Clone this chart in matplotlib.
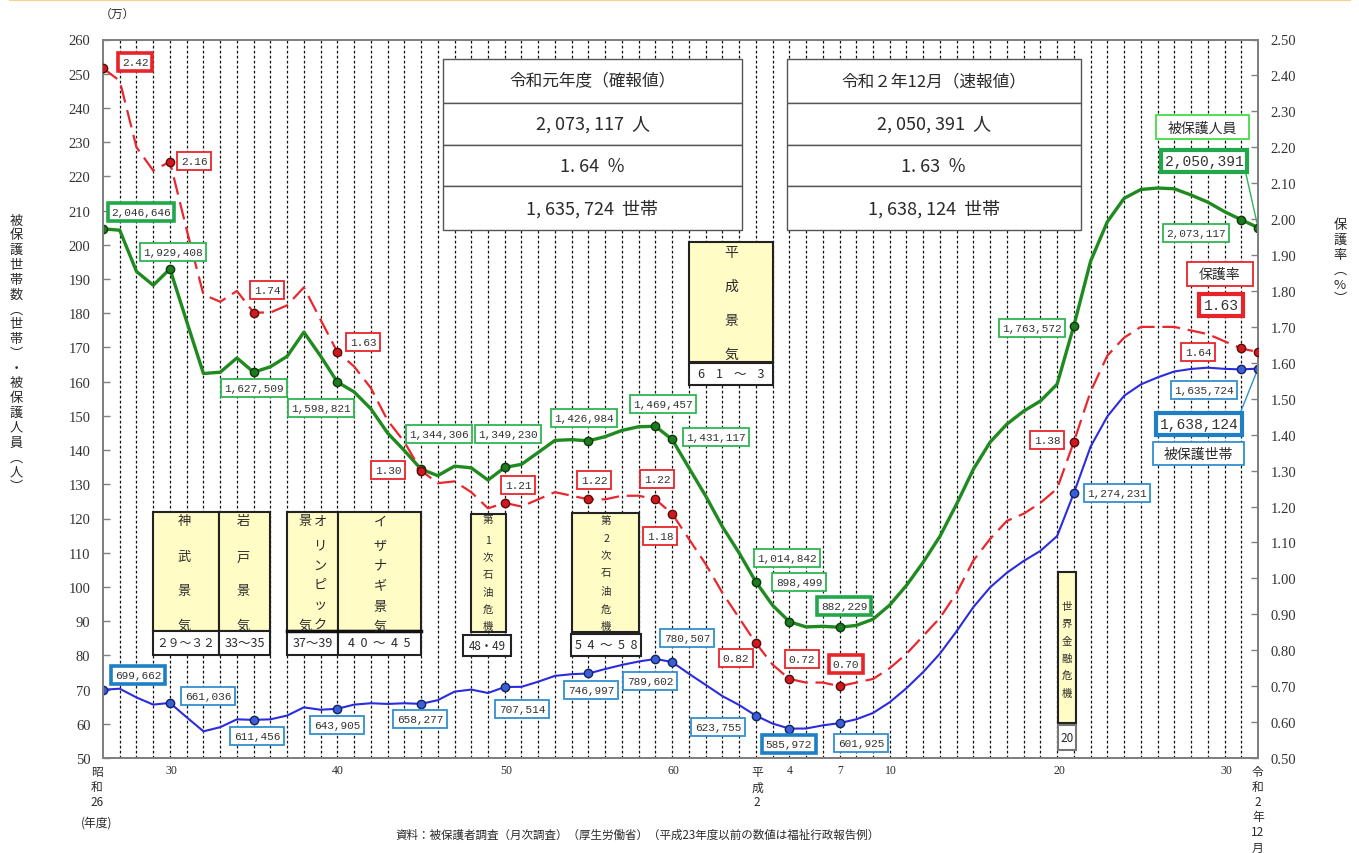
import matplotlib
matplotlib.use('Agg')
import matplotlib.pyplot as plt
from matplotlib.patches import Rectangle
from matplotlib.lines import Line2D

# ---------------- data ----------------
years = list(range(1951, 2020)) + [2020]   # last point = 令和2年12月
persons = [
    2046646, 2042550, 1922060, 1881687, 1929408, 1775971, 1623744, 1627571, 1669180, 1627509,
    1643445, 1674001, 1744639, 1674661, 1598821, 1570054, 1520733, 1449970, 1398725, 1344306,
    1325218, 1353000, 1348000, 1312339, 1349230, 1358316, 1393128, 1428261, 1430488, 1426984,
    1439226, 1457383, 1468245, 1469457, 1431117, 1348163, 1266126, 1176258, 1099520, 1014842,
    946374, 898499, 883112, 884912, 882229, 887450, 905589, 946994, 1004472, 1072241,
    1148088, 1242723, 1344327, 1423388, 1475838, 1513892, 1543321, 1592620, 1763572, 1952063,
    2067244, 2135708, 2161612, 2165895, 2163685, 2145438, 2124631, 2096838, 2073117, 2050391]
households = [
    699662, 702450, 677000, 656000, 661036, 619000, 578000, 590000, 613000, 611456,
    613000, 624000, 648000, 641000, 643905, 656000, 660000, 658000, 660000, 658277,
    669000, 694000, 700000, 690000, 707514, 708000, 723000, 740000, 745000, 746997,
    760000, 772000, 782000, 789602, 780507, 746355, 713825, 681018, 654915, 623755,
    600697, 585972, 586106, 595407, 601925, 613106, 631488, 663060, 704055, 751303,
    805169, 870931, 941270, 998887, 1041508, 1075820, 1105275, 1148766, 1274231, 1410049,
    1498375, 1558510, 1591846, 1612340, 1629743, 1637045, 1640854, 1637422, 1635724, 1638124]
rate = [
    2.42, 2.385, 2.20, 2.135, 2.16, 1.97, 1.79, 1.77, 1.80, 1.74,
    1.74, 1.76, 1.81, 1.72, 1.63, 1.59, 1.53, 1.44, 1.38, 1.30,
    1.265, 1.27, 1.24, 1.195, 1.21, 1.20, 1.22, 1.24, 1.23, 1.22,
    1.22, 1.23, 1.23, 1.22, 1.18, 1.11, 1.04, 0.96, 0.89, 0.82,
    0.76, 0.72, 0.71, 0.71, 0.70, 0.71, 0.72, 0.75, 0.79, 0.84,
    0.89, 0.96, 1.05, 1.11, 1.16, 1.18, 1.21, 1.25, 1.38, 1.52,
    1.62, 1.67, 1.70, 1.70, 1.70, 1.69, 1.68, 1.66, 1.64, 1.63]
left_ticks = list(range(50, 261, 10))
right_ticks = [round(0.5 + 0.1 * i, 2) for i in range(21)]

# ---------------- layout ----------------
W, H = 1359, 854
fig = plt.figure(figsize=(W / 100, H / 100), dpi=100)
fig.patch.set_facecolor('white')


def F(px, py):
    return (px / W, 1 - py / H)


JP = ['Noto Sans CJK JP', 'DejaVu Sans']
MONO = ['Liberation Mono', 'DejaVu Sans Mono']
SERIF = ['Liberation Serif', 'DejaVu Serif']
TXT = '#2a2a2a'


def txt(px, py, s, size, family=JP, color=TXT, ha='center', va='center', z=6, **kw):
    return fig.text(*F(px, py), s, fontsize=size, family=family, color=color,
                    ha=ha, va=va, zorder=z, **kw)


def rect(x0, y0, x1, y1, fc='white', ec='#333', lw=1.0, z=4):
    fig.add_artist(Rectangle(F(x0, y1), (x1 - x0) / W, (y1 - y0) / H,
                             transform=fig.transFigure, fc=fc, ec=ec, lw=lw, zorder=z))


ax = fig.add_axes([103 / W, 1 - 759 / H, 1155 / W, 718.5 / H])
ax2 = ax.twinx()
ax.set_xlim(1951, 2020)
ax.set_ylim(50, 260)
ax2.set_ylim(0.5, 2.5)
ax.set_xticks([])

for a in (ax, ax2):
    for s in a.spines.values():
        s.set_color('#808080')
        s.set_linewidth(1.4)

ax.set_yticks(left_ticks)
ax.set_yticklabels([str(t) for t in left_ticks])
ax.tick_params(axis='y', direction='in', length=5, width=1, color='#808080',
               labelsize=10.5, pad=9, labelcolor='#333')
for l in ax.get_yticklabels():
    l.set_fontfamily(SERIF)
ax2.set_yticks(right_ticks)
ax2.set_yticklabels([f'{t:.2f}' for t in right_ticks])
ax2.tick_params(axis='y', direction='in', length=5, width=1, color='#808080',
                labelsize=10.5, pad=9, labelcolor='#333')
for l in ax2.get_yticklabels():
    l.set_fontfamily(SERIF)

# vertical year grid
for yr in years[1:-1]:
    ax.axvline(yr, color='#111111', lw=0.9, ls=(0, (2.2, 1.8)), zorder=0.5)

# series
p_man = [v / 10000 for v in persons]
h_man = [v / 10000 for v in households]
GREEN, RED, BLUE = '#1f8a1f', '#e8282e', '#2b2be0'
ax.plot(years, p_man, color=GREEN, lw=2.4, zorder=3, solid_joinstyle='round')
ax.plot(years, h_man, color=BLUE, lw=1.5, zorder=3)
ax2.plot(years, rate, color=RED, lw=1.6, dashes=(8, 3.5), zorder=3)

# label layouts (pixel centre, style)
green_lab = {1951: (141, 213, 't'), 1955: (173, 253, ''), 1960: (254, 389, ''),
             1965: (321, 409, ''), 1970: (439, 435, ''), 1975: (508, 435, ''),
             1980: (584, 419, ''), 1984: (663, 405, ''), 1985: (716, 438, ''),
             1990: (787, 559, ''), 1992: (799, 583, ''), 1995: (844, 607, 't'),
             2009: (1032, 329, ''), 2019: (1196, 234, ''), 2020: (1204, 162, 'b')}
red_lab = {1951: (135, 63, 't'), 1955: (194, 162, ''), 1960: (267, 291, ''),
           1965: (363, 343, ''), 1970: (388, 471, ''), 1975: (518, 486, ''),
           1980: (594, 481, ''), 1984: (657, 480, ''), 1985: (660, 537, ''),
           1990: (736, 659, ''), 1992: (802, 660, ''), 1995: (846, 665, 't'),
           2009: (1047, 441, ''), 2019: (1198, 353, ''), 2020: (1221, 306, 'b')}
blue_lab = {1951: (138, 676, 't'), 1955: (208, 697, ''), 1960: (257, 737, ''),
            1965: (337, 726, ''), 1970: (420, 720, ''), 1975: (522, 710, ''),
            1980: (591, 691, ''), 1984: (650, 682, ''), 1985: (687, 639, ''),
            1990: (718, 728, ''), 1992: (789, 745, 't'), 1995: (861, 744, ''),
            2009: (1117, 494, ''), 2019: (1204, 391, ''), 2020: (1199, 425, 'b')}

marked = sorted(green_lab.keys())
idx = [years.index(y) for y in marked]
ax.plot([years[i] for i in idx], [p_man[i] for i in idx], 'o', ms=6,
        mfc='#1e7a1e', mec='#0d3a0d', mew=1.0, zorder=4)
ax.plot([years[i] for i in idx], [h_man[i] for i in idx], 'o', ms=6,
        mfc='#3a5fd8', mec='#15245e', mew=1.0, zorder=4)
ax2.plot([years[i] for i in idx], [rate[i] for i in idx], 'o', ms=6,
         mfc='#d0181e', mec='#5a0c0c', mew=1.0, zorder=4)


def data_label(px, py, s, ec, style):
    if style == 'b':
        fs, lw, pad, fam = 10.5, 3.0, 0.28, MONO
    elif style == 't':
        fs, lw, pad, fam = 8, 2.6, 0.32, MONO
    else:
        fs, lw, pad, fam = 8, 1.3, 0.32, MONO
    txt(px, py, s, fs, family=fam, color='#333',
        bbox=dict(boxstyle=f'square,pad={pad}', fc='white', ec=ec, lw=lw))


for yr, (px, py, st) in green_lab.items():
    data_label(px, py, f'{persons[years.index(yr)]:,}', '#22a84a' if st else '#2fb552', st)
for yr, (px, py, st) in red_lab.items():
    data_label(px, py, f'{rate[years.index(yr)]:.2f}', '#e8242b', st)
for yr, (px, py, st) in blue_lab.items():
    data_label(px, py, f'{households[years.index(yr)]:,}', '#1f7fc4' if st else '#3390cf', st)

# leader lines for latest values
ax.annotate('', xy=(years[-1], p_man[-1]), xycoords='data',
            xytext=F(1246, 175), textcoords='figure fraction',
            arrowprops=dict(arrowstyle='-', color='#2fb552', lw=1.0, shrinkA=0, shrinkB=0))
ax.annotate('', xy=(years[-1], h_man[-1]), xycoords='data',
            xytext=F(1241, 412), textcoords='figure fraction',
            arrowprops=dict(arrowstyle='-', color='#3390cf', lw=1.0, shrinkA=0, shrinkB=0))

# legend-like boxes
rect(1156, 116, 1249, 140, ec='#44dd44', lw=1.3)
txt(1202.5, 128.5, '被保護人員', 10)
rect(1187, 263, 1253, 287, ec='#e8242b', lw=1.3)
txt(1220, 275, '保護率', 10)
rect(1153, 443, 1244, 466, ec='#3390cf', lw=1.3)
txt(1198.5, 454.5, '被保護世帯', 10)

# summary tables
rows_y = [60, 104, 146, 187, 231]
tables = [
    (443, 742, '令和元年度（確報値）', -2),
    (787, 1081, '令和２年12月（速報値）', -1),
]
for x0, x1, head, k in tables:
    for r in range(4):
        rect(x0, rows_y[r], x1, rows_y[r + 1], ec='#555555', lw=1.0)
    cx = (x0 + x1) / 2
    cys = [(rows_y[r] + rows_y[r + 1]) / 2 for r in range(4)]
    txt(cx, cys[0], head, 12)
    txt(cx, cys[1], f'{persons[k]:,}'.replace(',', ', ') + '  人', 13)
    txt(cx, cys[2], f'{rate[k]:.2f}'.replace('.', '. ') + '  ％', 13)
    txt(cx, cys[3], f'{households[k]:,}'.replace(',', ', ') + '  世帯', 13)

# economic period boxes
YEL = '#fffcc6'
booms = [
    dict(box=(153, 513, 219, 632), lab=(632, 656, '２９～３２', 8.5), fs=9.5,
         chars=[(184, ['神', '武', '景', '気'], [522, 558, 592, 626])]),
    dict(box=(219, 513, 270, 632), lab=(632, 656, '33～35', 9), fs=9.5,
         chars=[(243, ['岩', '戸', '景', '気'], [522, 558, 592, 626])]),
    dict(box=(287, 513, 338, 632), lab=(632, 656, '37～39', 9), fs=9.5,
         chars=[(305, ['景', '気'], [522, 626]),
                (320, ['オ', 'リ', 'ン', 'ピ', 'ッ', 'ク'], [522, 546, 566, 585, 606, 626])]),
    dict(box=(338, 513, 421, 632), lab=(632, 656, '4  0  ～  4  5', 9), fs=9.5,
         chars=[(380, ['イ', 'ザ', 'ナ', 'ギ', '景', '気'], [522, 546, 566, 587, 607, 627])]),
    dict(box=(471, 515, 506, 633), lab=(636, 657, '48・49', 8.3), fs=7.5, labx=(463, 511),
         chars=[(488, ['第', '1', '次', '石', '油', '危', '機'], [520, 541, 558, 575, 593, 610, 627])]),
    dict(box=(572, 514, 639, 633), lab=(635, 657, '5  4  ～  5  8', 9), fs=7.5, labx=(571, 641),
         chars=[(606, ['第', '2', '次', '石', '油', '危', '機'], [521, 539, 556, 573, 592, 610, 627])]),
    dict(box=(689, 243, 773, 363), lab=(364, 386, '6    1    ～    3', 9), fs=10,
         chars=[(731, ['平', '成', '景', '気'], [253, 287, 321, 355])]),
    dict(box=(1058, 573, 1076, 724), lab=(726, 751, '20', 8.5), fs=7.5, labec='#777',
         chars=[(1067, ['世', '界', '金', '融', '危', '機'], [607, 624, 642, 659, 676, 694])]),
]
for b in booms:
    x0, y0, x1, y1 = b['box']
    rect(x0, y0, x1, y1, fc=YEL, ec='#222', lw=1.5)
    ly0, ly1, ls, lfs = b['lab']
    lx0, lx1 = b.get('labx', (x0, x1))
    rect(lx0, ly0, lx1, ly1, fc='white', ec=b.get('labec', '#222'), lw=1.5)
    txt((lx0 + lx1) / 2, (ly0 + ly1) / 2, ls, lfs)
    for cx, chs, ys in b['chars']:
        for c, yy in zip(chs, ys):
            txt(cx, yy, c, b['fs'])
# thick bottom line on Olympic / Izanagi boxes
fig.add_artist(Line2D([287 / W, 421 / W], [1 - 632 / H, 1 - 632 / H], transform=fig.transFigure,
                      color='#111', lw=2.5, zorder=5))

# axis titles (vertical Japanese)
left_title = ['被', '保', '護', '世', '帯', '数', '︵', '世', '帯', '︶', '・',
              '被', '保', '護', '人', '員', '︵', '人', '︶']
for i, c in enumerate(left_title):
    txt(16, 221 + i * 14.8, c, 9.5)
right_title = ['保', '護', '率', '︵', '%', '︶']
for i, c in enumerate(right_title):
    txt(1340, 226 + i * 14.8, c, 9.5)
txt(117, 14, '（万）', 8.5)

# x-axis labels
for px, s in [(171, '30'), (338, '40'), (506, '50'), (673, '60'), (790, '4'),
              (840, '7'), (891, '10'), (1059, '20'), (1226, '30')]:
    txt(px, 771, s, 8.5, family=SERIF)
for px, chs in [(97, ['昭', '和', '26']), (757, ['平', '成', '2']),
                (1258, ['令', '和', '2', '年', '12', '月'])]:
    for i, c in enumerate(chs):
        txt(px, 773 + i * 15, c, 8.5)
txt(97, 823, '(年度)', 8.5)
txt(638, 835, '資料：被保護者調査（月次調査）（厚生労働省）（平成23年度以前の数値は福祉行政報告例）', 8.3)

# thin orange rule on top
fig.add_artist(Line2D([10 / W, 1350 / W], [1 - 1 / H, 1 - 1 / H], transform=fig.transFigure,
                      color='#f9cf94', lw=1.5, zorder=5))

fig.savefig('out.png', dpi=100)
